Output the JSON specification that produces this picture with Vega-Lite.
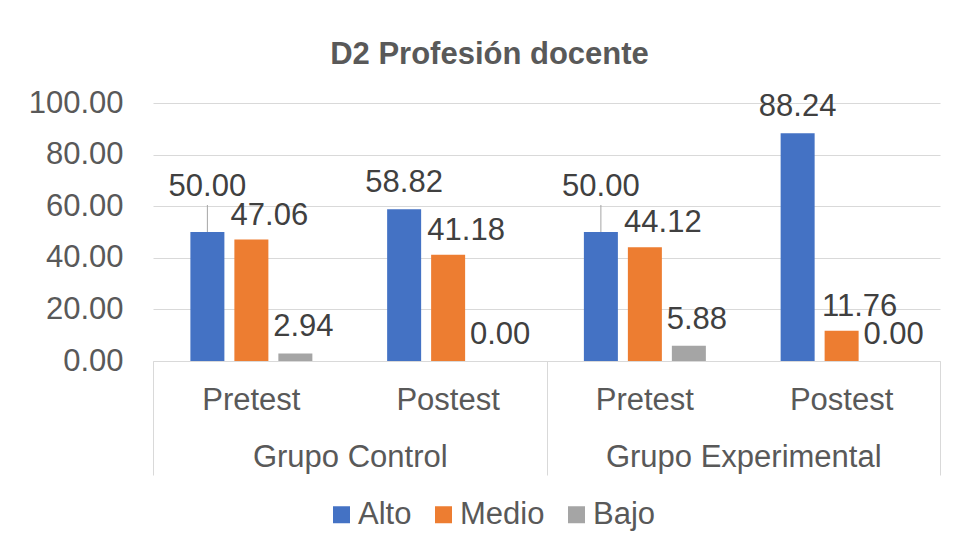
{
  "$schema": "https://vega.github.io/schema/vega-lite/v6.json",
  "width": 787,
  "height": 258,
  "autosize": {"type": "none"},
  "padding": {"left": 153, "top": 103, "right": 17, "bottom": 188},
  "background": "white",
  "config": {"view": {"stroke": null}, "font": "Liberation Sans"},
  "title": {
    "text": "D2 Profesión docente",
    "fontSize": 31,
    "fontWeight": "bold",
    "color": "#595959",
    "font": "Liberation Sans",
    "anchor": "middle",
    "dx": -57,
    "offset": 16
  },
  "data": {
    "values": [
      {"grupo": "Grupo Control", "prueba": "Pretest", "nivel": "Alto", "valor": 50.00},
      {"grupo": "Grupo Control", "prueba": "Pretest", "nivel": "Medio", "valor": 47.06},
      {"grupo": "Grupo Control", "prueba": "Pretest", "nivel": "Bajo", "valor": 2.94},
      {"grupo": "Grupo Control", "prueba": "Postest", "nivel": "Alto", "valor": 58.82},
      {"grupo": "Grupo Control", "prueba": "Postest", "nivel": "Medio", "valor": 41.18},
      {"grupo": "Grupo Control", "prueba": "Postest", "nivel": "Bajo", "valor": 0.00},
      {"grupo": "Grupo Experimental", "prueba": "Pretest", "nivel": "Alto", "valor": 50.00},
      {"grupo": "Grupo Experimental", "prueba": "Pretest", "nivel": "Medio", "valor": 44.12},
      {"grupo": "Grupo Experimental", "prueba": "Pretest", "nivel": "Bajo", "valor": 5.88},
      {"grupo": "Grupo Experimental", "prueba": "Postest", "nivel": "Alto", "valor": 88.24},
      {"grupo": "Grupo Experimental", "prueba": "Postest", "nivel": "Medio", "valor": 11.76},
      {"grupo": "Grupo Experimental", "prueba": "Postest", "nivel": "Bajo", "valor": 0.00}
    ]
  },
  "transform": [{"calculate": "datum.grupo + '|' + datum.prueba", "as": "cat"}],
  "encoding": {
    "y": {
      "field": "valor",
      "type": "quantitative",
      "scale": {"domain": [0, 100], "nice": false},
      "axis": {
        "title": null,
        "values": [0, 20, 40, 60, 80, 100],
        "format": ".2f",
        "domain": false,
        "ticks": false,
        "labelPadding": 30,
        "labelFontSize": 31,
        "labelColor": "#595959",
        "labelFont": "Liberation Sans",
        "gridColor": "#D9D9D9",
        "gridWidth": 1
      }
    }
  },
  "layer": [
    {
      "mark": {"type": "point", "opacity": 0},
      "encoding": {
        "x": {
          "field": "grupo",
          "type": "nominal",
          "sort": ["Grupo Control", "Grupo Experimental"],
          "scale": {"type": "band", "paddingInner": 0, "paddingOuter": 0},
          "axis": {
            "orient": "bottom",
            "title": null,
            "domain": false,
            "grid": false,
            "ticks": true,
            "tickBand": "extent",
            "tickSize": 114,
            "tickColor": "#D9D9D9",
            "tickWidth": 1,
            "labelAngle": 0,
            "labelLimit": 0,
            "labelFontSize": 31,
            "labelColor": "#595959",
            "labelFont": "Liberation Sans",
            "labelPadding": -32.5
          }
        }
      }
    },
    {
      "encoding": {
        "x": {
          "field": "cat",
          "type": "nominal",
          "sort": ["Grupo Control|Pretest", "Grupo Control|Postest", "Grupo Experimental|Pretest", "Grupo Experimental|Postest"],
          "scale": {"paddingInner": 0, "paddingOuter": 0},
          "axis": {
            "orient": "bottom",
            "title": null,
            "domain": true,
            "domainColor": "#D9D9D9",
            "domainWidth": 1,
            "ticks": false,
            "grid": false,
            "labelAngle": 0,
            "labelLimit": 0,
            "labelExpr": "split(datum.label, '|')[1]",
            "labelFontSize": 31,
            "labelColor": "#595959",
            "labelFont": "Liberation Sans",
            "labelPadding": 24.5
          }
        },
        "xOffset": {
          "field": "nivel",
          "type": "nominal",
          "sort": ["Alto", "Medio", "Bajo"],
          "scale": {"paddingInner": 0.227, "paddingOuter": 0.85}
        }
      },
      "layer": [
        {
          "mark": {"type": "bar"},
          "encoding": {
            "color": {
              "field": "nivel",
              "type": "nominal",
              "sort": ["Alto", "Medio", "Bajo"],
              "scale": {"domain": ["Alto", "Medio", "Bajo"], "range": ["#4472C4", "#ED7D31", "#A5A5A5"]},
              "legend": {
                "title": null,
                "orient": "none",
                "legendX": 173,
                "legendY": 396,
                "direction": "horizontal",
                "symbolType": "square",
                "symbolSize": 289,
                "symbolStrokeWidth": 0,
                "labelFontSize": 31,
                "labelColor": "#595959",
                "labelFont": "Liberation Sans",
                "labelOffset": 1,
                "columnPadding": 16,
                "padding": 0
              }
            }
          }
        },
        {
          "transform": [{"filter": "datum.nivel == 'Alto' && datum.prueba == 'Pretest'"}],
          "mark": {"type": "rule", "color": "#A6A6A6", "strokeWidth": 1, "y2Offset": -27},
          "encoding": {"y2": {"field": "valor"}}
        },
        {
          "transform": [{"filter": "datum.nivel == 'Alto' && datum.prueba == 'Pretest'"}],
          "mark": {"type": "text", "fontSize": 31, "color": "#404040", "baseline": "alphabetic", "dy": -36, "font": "Liberation Sans"},
          "encoding": {"text": {"field": "valor", "type": "quantitative", "format": ".2f"}}
        },
        {
          "transform": [{"filter": "datum.nivel == 'Alto' && datum.prueba == 'Postest'"}],
          "mark": {"type": "text", "fontSize": 31, "color": "#404040", "baseline": "alphabetic", "dy": -17, "font": "Liberation Sans"},
          "encoding": {"text": {"field": "valor", "type": "quantitative", "format": ".2f"}}
        },
        {
          "transform": [{"filter": "datum.nivel == 'Medio'"}],
          "mark": {"type": "text", "fontSize": 31, "color": "#404040", "baseline": "alphabetic", "dy": -15, "dx": 18, "font": "Liberation Sans"},
          "encoding": {"text": {"field": "valor", "type": "quantitative", "format": ".2f"}}
        },
        {
          "transform": [{"filter": "datum.nivel == 'Bajo'"}],
          "mark": {"type": "text", "fontSize": 31, "color": "#404040", "baseline": "alphabetic", "dy": -17, "dx": 8, "font": "Liberation Sans"},
          "encoding": {"text": {"field": "valor", "type": "quantitative", "format": ".2f"}}
        }
      ]
    }
  ],
  "resolve": {"scale": {"x": "independent"}, "axis": {"x": "independent"}}
}
